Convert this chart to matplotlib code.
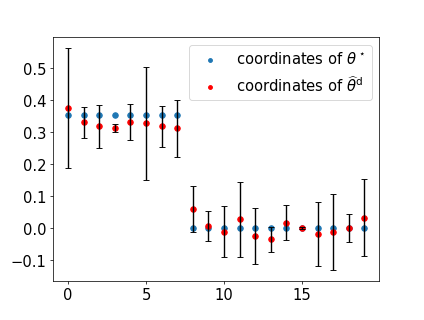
import numpy as np
import matplotlib
matplotlib.use("Agg")
import matplotlib.pyplot as plt

# coordonnees
idx = np.arange(20)
theta_star = [0.353] * 8 + [0.0] * 12
theta_hat = [0.373, 0.329, 0.318, 0.311, 0.331, 0.326, 0.317, 0.311,
             0.060, 0.008, -0.011, 0.028, -0.025, -0.035, 0.017, 0.0,
             -0.017, -0.012, 0.001, 0.033]
err = [0.187, 0.047, 0.067, 0.013, 0.057, 0.175, 0.064, 0.089,
       0.072, 0.047, 0.080, 0.117, 0.087, 0.039, 0.054, 0.003,
       0.100, 0.118, 0.044, 0.120]

fig = plt.figure(figsize=(6.4, 4.834), dpi=66.4)
ax = fig.add_axes([0.1254, 0.1215, 0.767, 0.7595])

ax.scatter(idx, theta_star, color="tab:blue", label=r"coordinates of $\theta^\star$")
ax.scatter(idx, theta_hat, color="red", label=r"coordinates of $\widehat{\theta}^{\rm d}$")
ax.errorbar(idx, theta_hat, yerr=err, fmt="none", ecolor="k", elinewidth=1.5, capsize=3)

ax.set_xticks([0, 5, 10, 15])
ax.set_yticks([-0.1, 0.0, 0.1, 0.2, 0.3, 0.4, 0.5])
ax.tick_params(labelsize=16)
ax.legend(fontsize=16, loc="upper right", markerscale=0.7)

fig.savefig("out.png", dpi=66.4)
